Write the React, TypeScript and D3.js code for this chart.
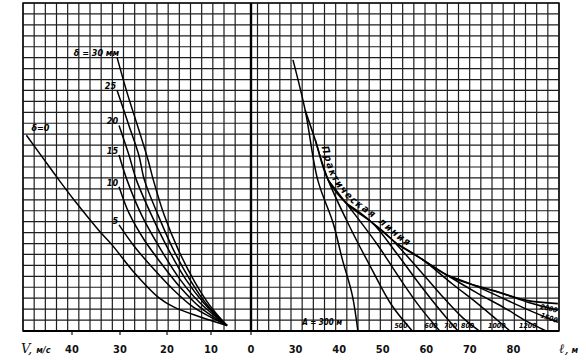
import React from "react";
import * as d3 from "d3";

type P = [number, number];

// Bottom axis tick labels
const vTicks = [40, 30, 20, 10, 0];
const lTicks = [30, 40, 50, 60, 70, 80];

// Left family: wall thickness δ (mm); points are [V m/s, h grid units]
const deltaValues = [0, 5, 10, 15, 20, 25, 30];
const delta0: P[] = [[49.5, 17.9], [44.2, 14.7], [42.7, 13.8], [39.6, 12.0], [34.4, 9.2], [31.7, 7.9], [26.9, 5.3], [21.9, 3.1], [18.5, 2.2], [12.6, 1.3], [6, 0.5]];
const delta5: P[] = [[30.2, 9.7], [26.9, 7.7], [23.3, 5.9], [18.5, 3.75], [14.1, 2.2], [9.75, 1.2], [6, 0.5]];
const delta10: P[] = [[30.2, 13.2], [28.1, 10.8], [24.8, 8.3], [21.25, 6.2], [17.0, 4.0], [12.6, 2.2], [6, 0.5]];
const delta15: P[] = [[30.2, 16.1], [28.5, 13.8], [25.4, 10.6], [21.25, 7.4], [17.0, 4.7], [12.6, 2.6], [6, 0.5]];
const delta20: P[] = [[30.2, 18.8], [28.1, 16.1], [26.5, 13.8], [23.3, 10.6], [19.6, 7.4], [15.7, 4.7], [11.5, 2.5], [6, 0.5]];
const delta25: P[] = [[30.6, 22.0], [28.1, 18.8], [26.0, 16.1], [24.8, 13.8], [21.9, 10.6], [18.5, 7.4], [14.8, 4.7], [10.9, 2.4], [6, 0.5]];
const delta30: P[] = [[30.6, 25.0], [28.5, 21.8], [26.0, 18.4], [24.0, 15.6], [22.9, 13.8], [20.6, 10.6], [17.4, 7.4], [13.7, 4.5], [10.2, 2.3], [6, 0.5]];
const deltaCurves = [delta0, delta5, delta10, delta15, delta20, delta25, delta30];

// Right family: A (m); points are [l m, h grid units]
const envelope: P[] = [[32.2, 20.2], [34.5, 17.5], [37.5, 13.8], [41.6, 11.7], [47.6, 9.9], [53.6, 7.9], [58.9, 6.6], [64.8, 5.1], [70.8, 4.2], [77.0, 3.5], [83.0, 2.8], [90.2, 2.5]];
const aValues = [300, 500, 600, 700, 800, 1000, 1200, 1500, 2000];
const a300: P[] = [[29.4, 24.8], [32.2, 20.2], [35.1, 13.8], [38.6, 9.9], [40.7, 6.6], [43.0, 3.3], [44.3, 0]];
const a500: P[] = [[34.5, 17.5], [37.5, 13.8], [42.6, 9.4], [47.3, 5.8], [52.0, 2.4], [56.8, 0]];
const a600: P[] = [[37.5, 13.8], [41.6, 11.7], [48.6, 8.0], [54.6, 4.4], [58.9, 2.0], [63.1, 0]];
const a700: P[] = [[41.6, 11.7], [47.6, 9.9], [53.4, 7.0], [58.8, 4.1], [63.6, 1.7], [67.3, 0]];
const a800: P[] = [[47.6, 9.9], [51.0, 8.8], [57.5, 6.0], [63.4, 3.3], [68.4, 1.2], [72.2, 0]];
const a1000: P[] = [[53.6, 7.9], [58.9, 6.6], [66.0, 4.3], [71.5, 2.6], [75.7, 1.2], [79.2, 0]];
const a1200: P[] = [[58.9, 6.6], [64.8, 5.1], [72.0, 3.4], [78.0, 2.1], [83.0, 0.9], [87.5, 0]];
const a1500: P[] = [[64.8, 5.1], [70.8, 4.2], [77.0, 3.1], [83.0, 2.0], [90.2, 0.8]];
const a2000: P[] = [[70.8, 4.2], [77.0, 3.5], [83.5, 2.6], [90.2, 1.9]];
const aCurves = [a300, a500, a600, a700, a800, a1000, a1200, a1500, a2000];
const aLabelText = ["A = 300 м", "500", "600", "700", "800", "1000", "1200", "1500", "2000"];
const aLabelL = [36.1, 54.2, 61.1, 65.6, 69.5, 76.2, 83.3, 88.0, 88.0];
const aLabelH = [0.55, 0.3, 0.3, 0.3, 0.3, 0.3, 0.3, 1.0, 1.85];
const aLabelRot = [0, 0, 0, 0, 0, 0, 0, 18, 14];

const envelopeLabel = "Практическая линия";

export default function App() {
  const W = 586, H = 361;
  const xV = d3.scaleLinear().domain([50, 40, 30, 20, 10, 0]).range([24, 72, 120, 167, 211, 251]);
  const xL = d3.scaleLinear().domain([20, 90]).range([252, 557]);
  const y = d3.scaleLinear().domain([0, 30]).range([331, 3]);
  const gx = d3.scaleLinear().domain([0, 48]).range([23, 559]);

  const lineV = d3.line<P>().x(d => xV(d[0])).y(d => y(d[1])).curve(d3.curveCatmullRom.alpha(0.5));
  const lineL = d3.line<P>().x(d => xL(d[0])).y(d => y(d[1])).curve(d3.curveCatmullRom.alpha(0.5));

  const zeroX = xV(0);
  const vLines = d3.range(0, 49).map(i => gx(i)).filter(x => Math.abs(x - zeroX) > 6);
  const hLines = d3.range(0, 31).map(j => y(j));

  const labelFont = "'DejaVu Sans Condensed', 'DejaVu Sans', sans-serif";

  return (
    <svg width={W} height={H} viewBox={`0 0 ${W} ${H}`} style={{ position: "absolute", left: 0, top: 0, background: "#fff" }}>
      <rect x={0} y={0} width={W} height={H} fill="#fff" />
      {/* graph-paper grid */}
      <g stroke="#1e1e1e" strokeWidth={1.2}>
        {vLines.map((x, i) => (
          <line key={"v" + i} x1={x} x2={x} y1={y(30)} y2={y(0)} />
        ))}
        {hLines.map((yy, i) => (
          <line key={"h" + i} x1={gx(0)} x2={gx(48)} y1={yy} y2={yy} />
        ))}
      </g>
      <rect x={gx(0)} y={y(30)} width={gx(48) - gx(0)} height={y(0) - y(30)} fill="none" stroke="#111" strokeWidth={1.5} />
      <line x1={zeroX} x2={zeroX} y1={y(30)} y2={y(0)} stroke="#000" strokeWidth={2.4} />
      <line x1={gx(0)} x2={gx(48)} y1={y(0)} y2={y(0)} stroke="#000" strokeWidth={1.8} />

      {/* ticks below baseline */}
      <g stroke="#111" strokeWidth={1.2}>
        {vTicks.map(v => (
          <line key={"tv" + v} x1={xV(v)} x2={xV(v)} y1={y(0)} y2={y(0) + 4} />
        ))}
      </g>

      {/* left curve family */}
      <g fill="none" stroke="#000" strokeWidth={1.5}>
        {deltaCurves.map((c, i) => (
          <path key={"d" + i} d={lineV(c) || ""} />
        ))}
      </g>
      <g fontFamily={labelFont} fontStyle="italic" fontWeight="bold" fontSize={9} fill="#000">
        {deltaCurves.map((c, i) => {
          const v = deltaValues[i];
          const sx = xV(c[0][0]);
          const sy = y(c[0][1]);
          if (v === 0) {
            return (
              <text key={"dl" + i} x={sx + 5} y={sy - 4}>δ=0</text>
            );
          }
          if (v === 30) {
            return (
              <text key={"dl" + i} x={sx + 2} y={sy - 2} textAnchor="end">δ = 30 мм</text>
            );
          }
          return (
            <text key={"dl" + i} x={sx - 1} y={sy - 1} textAnchor="end">{v}</text>
          );
        })}
      </g>

      {/* right curve family */}
      <path id="envPath" d={lineL(envelope) || ""} fill="none" stroke="#000" strokeWidth={1.6} />
      <g fill="none" stroke="#000" strokeWidth={1.5}>
        {aCurves.map((c, i) => (
          <path key={"a" + i} d={lineL(c) || ""} />
        ))}
      </g>
      <text fontFamily={labelFont} fontStyle="italic" fontWeight="bold" fontSize={10} fill="#000" dy={-4}>
        <textPath href="#envPath" startOffset={40} textLength={138} lengthAdjust="spacing">{envelopeLabel}</textPath>
      </text>
      <g fontFamily={labelFont} fontStyle="italic" fontWeight="bold" fill="#000">
        {aValues.map((a, i) => {
          const lx = xL(aLabelL[i]);
          const ly = y(aLabelH[i]);
          return (
            <text key={"al" + a} x={lx} y={ly} fontSize={i === 0 ? 8 : 7} textAnchor="middle"
              transform={aLabelRot[i] ? `rotate(${aLabelRot[i]} ${lx} ${ly})` : undefined}>
              {aLabelText[i]}
            </text>
          );
        })}
      </g>

      {/* bottom axis labels */}
      <g fontFamily={labelFont} fontWeight="bold" fontSize={11} fill="#111" textAnchor="middle">
        {vTicks.map(v => (
          <text key={"lv" + v} x={xV(v)} y={353}>{v}</text>
        ))}
        {lTicks.map(l => (
          <text key={"ll" + l} x={xL(l)} y={353}>{l}</text>
        ))}
      </g>
      <text x={21} y={353} fontFamily="'DejaVu Serif', serif" fontStyle="italic" fontSize={13} fill="#111">
        V,
        <tspan dx={4} fontSize={9} fontFamily={labelFont} fontWeight="bold">м/с</tspan>
      </text>
      <text x={559} y={353} fontFamily="'DejaVu Serif', serif" fontStyle="italic" fontSize={13} fill="#111">
        ℓ,
        <tspan dx={3} fontSize={9} fontFamily={labelFont} fontWeight="bold">м</tspan>
      </text>
    </svg>
  );
}
